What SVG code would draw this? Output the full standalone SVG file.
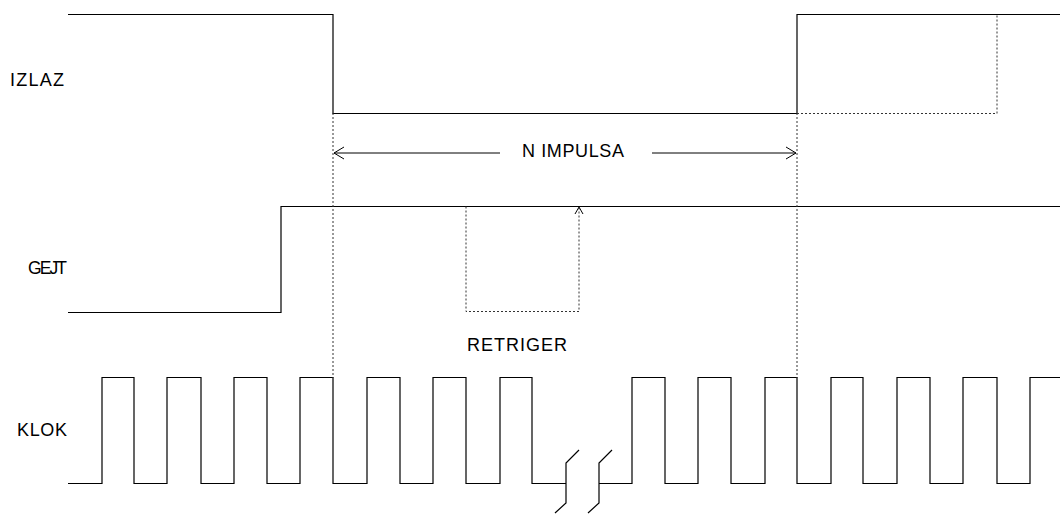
<svg xmlns="http://www.w3.org/2000/svg" width="1060" height="514" viewBox="0 0 1060 514">
<defs>
<style>
.w{fill:none;stroke:#000;stroke-width:1.2}
.d{fill:none;stroke:#333;stroke-width:1;stroke-dasharray:2,2}
.a{fill:none;stroke:#000;stroke-width:1}
.t{font-family:"Liberation Sans",Arial,sans-serif;font-size:18px;fill:#000;letter-spacing:1px}
.g{letter-spacing:0;font-size:17.5px}
</style>
</defs>
<rect width="1060" height="514" fill="#fff"/>
<g id="labels">
<text class="t" x="10" y="86" textLength="55">IZLAZ</text>
<text class="t g" x="28" y="274" textLength="39">GEJT</text>
<text class="t" x="17" y="436" textLength="51">KLOK</text>
<text class="t" x="467" y="351" textLength="101">RETRIGER</text>
<text class="t" x="522" y="157" textLength="103">N IMPULSA</text>
</g>
<g id="izlaz">
<path class="w" d="M68 14.5H333V113.5H797V14.5H1060"/>
<path class="d" d="M797 113.5H997V14.5"/>
</g>
<g id="gejt">
<path class="w" d="M68 312.5H281V206.5H1060"/>
<path class="d" d="M466 206.5V311.5H579V208"/>
</g>
<g id="klok">
<path class="w" d="M68 483.5H102V377.5H134V483.5H167V377.5H201V483.5H234V377.5H267V483.5H300V377.5H333V483.5H367V377.5H400V483.5H433V377.5H466V483.5H500V377.5H532V483.5H566"/>
<path class="w" d="M599 483.5H632V377.5H665V483.5H698V377.5H731V483.5H765V377.5H797V483.5H831V377.5H863V483.5H897V377.5H930V483.5H963V377.5H997V483.5H1030V377.5H1060"/>
<path class="w" d="M555 513L566 503V463L579 450M588 513L599 503V463L612 450"/>
</g>
<g id="connectors">
<path class="d" d="M333 113V378M797 113V378"/>
<path class="a" d="M334 153H500M652 153H796M344 147L334 153L344 159M786 147L796 153L786 159"/>
<path class="a" d="M575 214L579 207L583 214"/>
</g>
</svg>
